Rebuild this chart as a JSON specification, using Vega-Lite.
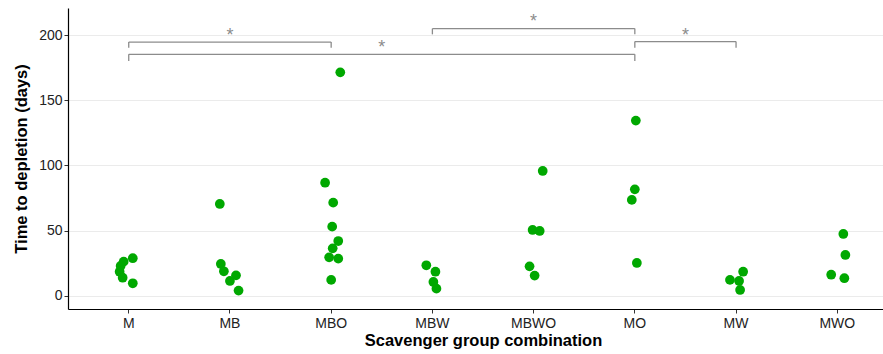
{
  "$schema": "https://vega.github.io/schema/vega-lite/v6.json",
  "autosize": {"type": "none"},
  "padding": {"left": 68, "top": 8, "right": 0, "bottom": 45},
  "width": 815,
  "height": 301,
  "background": "white",
  "config": {
    "view": {"stroke": null},
    "font": "Liberation Sans",
    "axis": {
      "domainColor": "#000000",
      "domainWidth": 1.2,
      "tickColor": "#333333",
      "tickSize": 4,
      "labelColor": "#222222",
      "labelFontSize": 14,
      "titleColor": "#000000",
      "titleFontSize": 16.5,
      "titleFontWeight": "bold"
    }
  },
  "datasets": {
    "pts": [
      {"group": "M", "days": 28.9, "jitter": 0.04},
      {"group": "M", "days": 26.3, "jitter": -0.05},
      {"group": "M", "days": 23.0, "jitter": -0.08},
      {"group": "M", "days": 18.6, "jitter": -0.09},
      {"group": "M", "days": 14.0, "jitter": -0.06},
      {"group": "M", "days": 9.7, "jitter": 0.04},
      {"group": "MB", "days": 70.5, "jitter": -0.1},
      {"group": "MB", "days": 24.5, "jitter": -0.09},
      {"group": "MB", "days": 18.9, "jitter": -0.06},
      {"group": "MB", "days": 15.8, "jitter": 0.06},
      {"group": "MB", "days": 11.5, "jitter": 0.0},
      {"group": "MB", "days": 4.1, "jitter": 0.085},
      {"group": "MBO", "days": 171.4, "jitter": 0.09},
      {"group": "MBO", "days": 86.8, "jitter": -0.06},
      {"group": "MBO", "days": 71.5, "jitter": 0.02},
      {"group": "MBO", "days": 53.1, "jitter": 0.01},
      {"group": "MBO", "days": 42.1, "jitter": 0.07},
      {"group": "MBO", "days": 36.5, "jitter": 0.015},
      {"group": "MBO", "days": 29.6, "jitter": -0.02},
      {"group": "MBO", "days": 28.6, "jitter": 0.07},
      {"group": "MBO", "days": 12.3, "jitter": 0.0},
      {"group": "MBW", "days": 23.5, "jitter": -0.06},
      {"group": "MBW", "days": 18.6, "jitter": 0.03},
      {"group": "MBW", "days": 10.7, "jitter": 0.01},
      {"group": "MBW", "days": 5.6, "jitter": 0.04},
      {"group": "MBWO", "days": 95.8, "jitter": 0.09},
      {"group": "MBWO", "days": 50.6, "jitter": -0.01},
      {"group": "MBWO", "days": 49.8, "jitter": 0.06},
      {"group": "MBWO", "days": 22.7, "jitter": -0.04},
      {"group": "MBWO", "days": 15.6, "jitter": 0.01},
      {"group": "MO", "days": 134.4, "jitter": 0.01},
      {"group": "MO", "days": 81.7, "jitter": 0.0},
      {"group": "MO", "days": 73.6, "jitter": -0.03},
      {"group": "MO", "days": 25.3, "jitter": 0.02},
      {"group": "MW", "days": 18.6, "jitter": 0.07},
      {"group": "MW", "days": 12.3, "jitter": -0.06},
      {"group": "MW", "days": 11.5, "jitter": 0.03},
      {"group": "MW", "days": 4.6, "jitter": 0.04},
      {"group": "MWO", "days": 47.5, "jitter": 0.06},
      {"group": "MWO", "days": 31.4, "jitter": 0.08},
      {"group": "MWO", "days": 16.3, "jitter": -0.06},
      {"group": "MWO", "days": 13.6, "jitter": 0.07}
    ],
    "brackets": [
      {"from": "M", "to": "MBO", "level": 194.6},
      {"from": "M", "to": "MO", "level": 185.2},
      {"from": "MBW", "to": "MO", "level": 204.9},
      {"from": "MO", "to": "MW", "level": 195.0}
    ],
    "legs": [
      {"group": "M", "top": 194.6, "bottom": 190.3},
      {"group": "MBO", "top": 194.6, "bottom": 190.3},
      {"group": "M", "top": 185.2, "bottom": 180.0},
      {"group": "MO", "top": 185.2, "bottom": 180.0},
      {"group": "MBW", "top": 204.9, "bottom": 200.5},
      {"group": "MO", "top": 204.9, "bottom": 200.5},
      {"group": "MO", "top": 195.0, "bottom": 190.3},
      {"group": "MW", "top": 195.0, "bottom": 190.3}
    ],
    "stars": [
      {"group": "MB", "shift": 0, "level": 195.6, "label": "*"},
      {"group": "MBO", "shift": 0.5, "level": 186.0, "label": "*"},
      {"group": "MBWO", "shift": 0, "level": 205.9, "label": "*"},
      {"group": "MO", "shift": 0.5, "level": 195.6, "label": "*"}
    ]
  },
  "layer": [
    {
      "data": {"name": "pts"},
      "mark": {"type": "circle", "size": 95, "opacity": 1, "color": "#00A800"},
      "encoding": {
        "x": {
          "field": "group",
          "type": "nominal",
          "sort": ["M", "MB", "MBO", "MBW", "MBWO", "MO", "MW", "MWO"],
          "scale": {
            "type": "band",
            "domain": ["M", "MB", "MBO", "MBW", "MBWO", "MO", "MW", "MWO"],
            "range": [0, 830],
            "paddingInner": 0,
            "paddingOuter": 0.1
          },
          "axis": {
            "title": "Scavenger group combination",
            "labelAngle": 0,
            "labelPadding": 3,
            "titlePadding": 2,
            "grid": false
          }
        },
        "xOffset": {
          "field": "jitter",
          "type": "quantitative",
          "scale": {"domain": [-0.5, 0.5], "nice": false, "zero": false}
        },
        "y": {
          "field": "days",
          "type": "quantitative",
          "scale": {"domain": [-10, 220.7], "nice": false, "zero": false},
          "axis": {
            "title": "Time to depletion (days)",
            "values": [0, 50, 100, 150, 200],
            "grid": true,
            "gridColor": "#EBEBEB",
            "gridWidth": 1,
            "labelPadding": 2,
            "titlePadding": 9
          }
        }
      }
    },
    {
      "data": {"name": "brackets"},
      "mark": {"type": "rule", "color": "#8C8C8C", "strokeWidth": 1.3},
      "encoding": {
        "x": {"field": "from", "type": "nominal", "bandPosition": 0.5},
        "x2": {"field": "to", "bandPosition": 0.5},
        "y": {"field": "level", "type": "quantitative"}
      }
    },
    {
      "data": {"name": "legs"},
      "mark": {"type": "rule", "color": "#8C8C8C", "strokeWidth": 1.3},
      "encoding": {
        "x": {"field": "group", "type": "nominal", "bandPosition": 0.5},
        "y": {"field": "top", "type": "quantitative"},
        "y2": {"field": "bottom"}
      }
    },
    {
      "data": {"name": "stars"},
      "mark": {"type": "text", "color": "#8C8C8C", "fontSize": 18, "baseline": "alphabetic", "align": "center"},
      "encoding": {
        "x": {"field": "group", "type": "nominal"},
        "xOffset": {"field": "shift", "type": "quantitative"},
        "y": {"field": "level", "type": "quantitative"},
        "text": {"field": "label"}
      }
    }
  ]
}
